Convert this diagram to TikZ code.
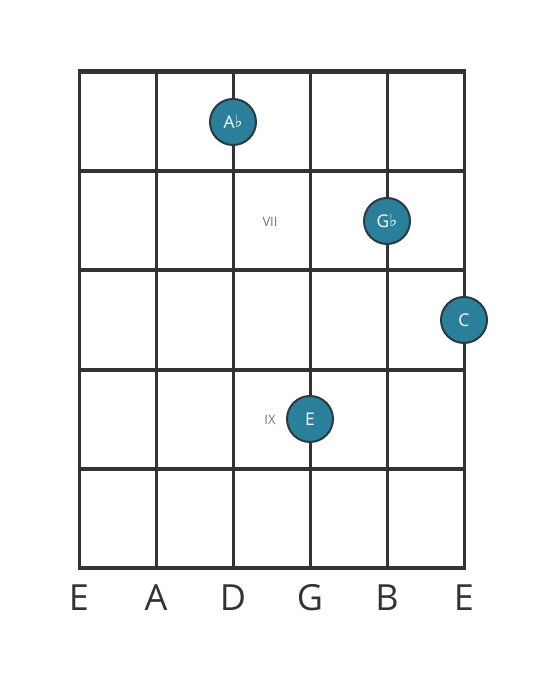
\documentclass[tikz,border=0pt]{standalone}
\usepackage{fontspec}
\setmainfont{Open Sans}
\newfontfamily\symfont{DejaVu Sans}
\definecolor{gridc}{HTML}{333333}
\definecolor{notec}{HTML}{2A7F9B}
\definecolor{noteb}{HTML}{2B3A40}
\definecolor{labc}{HTML}{777777}
\newcommand{\flt}{{\symfont\raisebox{0.02em}{\scalebox{0.95}{♭}}}}
\begin{document}
\begin{tikzpicture}[x=1pt,y=1pt,
  stringline/.style={draw=gridc,line width=3pt},
  fretline/.style={draw=gridc,line width=4pt},
  notedot/.style={circle,fill=notec,draw=noteb,line width=2pt,minimum size=46pt,inner sep=0pt,text=white,font=\fontsize{17.5}{17.5}\selectfont},
  fretlabel/.style={text=labc,font=\fontsize{13}{13}\selectfont},
  stringname/.style={text=gridc,font=\fontsize{36}{36}\selectfont}]
\useasboundingbox (0,0) rectangle (559,682);
% strings
\foreach \x [count=\i] in {79,156,233,310,387,464}{
  \coordinate (st\i) at (\x,610);
  \coordinate (sb\i) at (\x,114);
  \draw[stringline] (st\i) -- (sb\i);
}
% frets
\foreach \y [count=\j] in {610,511,412,312,213,114}{
  \coordinate (fl\j) at (77.5,\y);
  \coordinate (fr\j) at (465.5,\y);
  \draw[fretline] (fl\j) -- (fr\j);
}
\draw[draw=gridc,line width=5pt] (77.5,610) -- (465.5,610);
% labels
\node[fretlabel] (vii) at (270,460) {VII};
\node[fretlabel] (ix) at (270,262) {IX};
% notes
\node[notedot] (ab) at (233,560) {A\flt};
\node[notedot] (gb) at (387,461) {G\flt};
\node[notedot] (c) at (464,362) {C};
\node[notedot] (e) at (310,263) {E};
% string names
\foreach \x/\n [count=\k] in {79/E,156/A,233/D,310/G,387/B,464/E}{
  \node[stringname] (n\k) at (\x,84) {\n};
}
\end{tikzpicture}
\end{document}
